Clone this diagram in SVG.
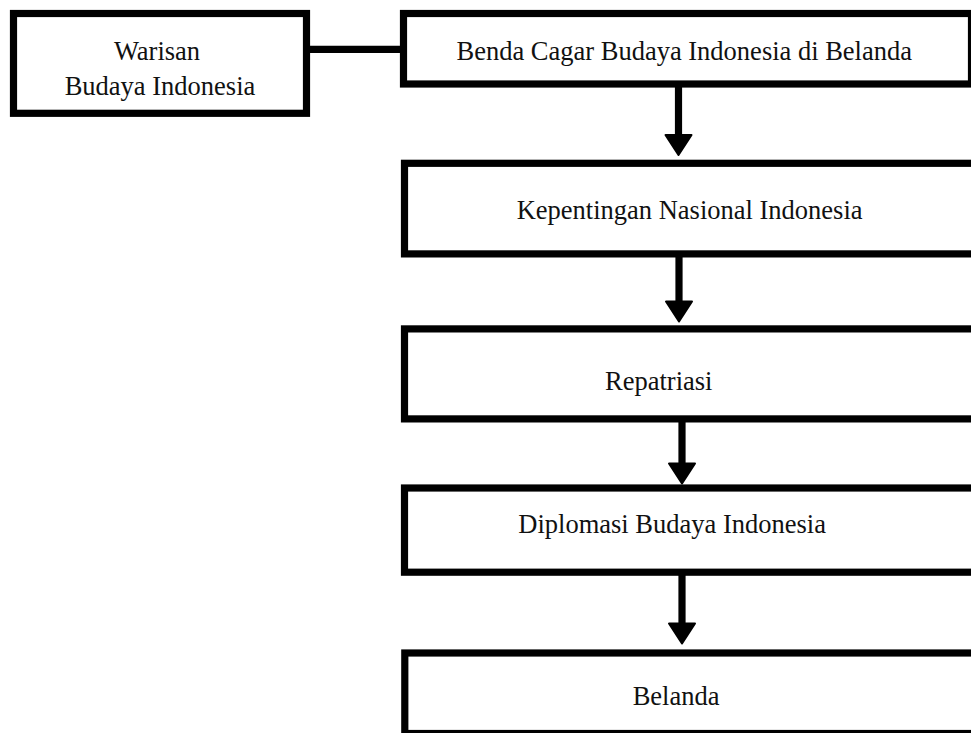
<svg xmlns="http://www.w3.org/2000/svg" width="971" height="733" viewBox="0 0 971 733">
<style>
.box{fill:#fff;stroke:#000;stroke-width:7.2}
.t{font-family:"Liberation Serif","Times New Roman",serif;font-size:26.5px;fill:#111}
.c{stroke:#000;stroke-width:7.2;fill:none}
</style>
<defs>
<marker id="ah" markerUnits="userSpaceOnUse" viewBox="0 -15 22 30" markerWidth="22" markerHeight="30" refX="0" refY="0" orient="auto" overflow="visible">
<path d="M0,-13 L20,0 L0,13 Z" fill="#000" stroke="#000" stroke-width="2" stroke-linejoin="round"/>
</marker>
</defs>
<rect width="971" height="733" fill="#fff"/>
<g id="connectors">
<line class="c" x1="308" y1="49.3" x2="405" y2="49.3"/>
<line class="c" x1="678.5" y1="86" x2="678.5" y2="135" marker-end="url(#ah)"/>
<line class="c" x1="679" y1="256" x2="679" y2="301.5" marker-end="url(#ah)"/>
<line class="c" x1="682" y1="421" x2="682" y2="463.5" marker-end="url(#ah)"/>
<line class="c" x1="682" y1="574" x2="682" y2="623.5" marker-end="url(#ah)"/>
</g>
<g id="warisan">
<rect class="box" x="13.5" y="13.5" width="293" height="99.8"/>
<text class="t" x="157" y="60" text-anchor="middle">Warisan</text>
<text class="t" x="160" y="95" text-anchor="middle">Budaya Indonesia</text>
</g>
<g id="benda">
<rect class="box" x="403.5" y="13.5" width="568" height="70.5"/>
<text class="t" x="456.5" y="60">Benda Cagar Budaya Indonesia di Belanda</text>
</g>
<g id="kepentingan">
<rect class="box" x="404.5" y="163.3" width="600" height="90.6"/>
<text class="t" x="516.7" y="219.3">Kepentingan Nasional Indonesia</text>
</g>
<g id="repatriasi">
<rect class="box" x="404.5" y="328.9" width="600" height="90"/>
<text class="t" x="605" y="390">Repatriasi</text>
</g>
<g id="diplomasi">
<rect class="box" x="404.5" y="488" width="600" height="84.2"/>
<text class="t" x="518.3" y="533.3">Diplomasi Budaya Indonesia</text>
</g>
<g id="belanda">
<rect class="box" x="404.8" y="653" width="600" height="80.5"/>
<text class="t" x="632.7" y="705">Belanda</text>
</g>
</svg>
